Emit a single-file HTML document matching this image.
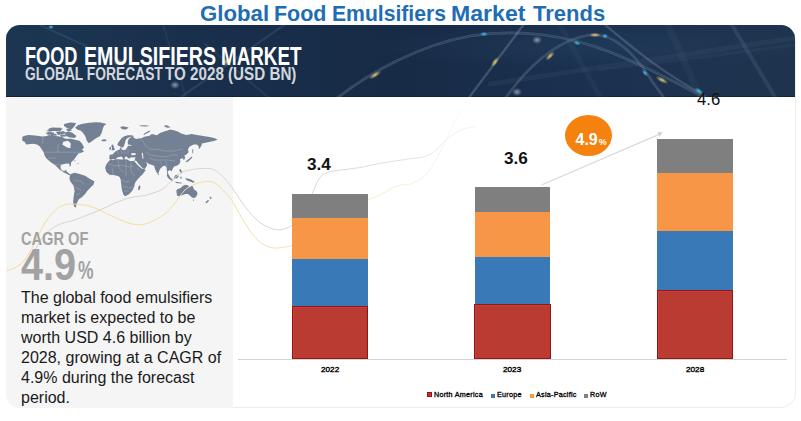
<!DOCTYPE html>
<html><head><meta charset="utf-8">
<style>
*{margin:0;padding:0;box-sizing:border-box}
html,body{width:801px;height:421px;overflow:hidden;background:#fff;font-family:"Liberation Sans",sans-serif}
.abs{position:absolute}
.ttl{position:absolute;top:3px;font-weight:bold;font-size:22px;color:#1f6db3;white-space:nowrap;transform-origin:0 0;line-height:22px}
#frame{position:absolute;left:6px;top:25px;width:790px;height:383px;border:1px solid #ececec;border-radius:15px}
#header{position:absolute;left:6px;top:25px;width:789px;height:72px;box-shadow:inset 0 -1px 0 #132438;border-radius:14px 14px 0 0;overflow:hidden;background:linear-gradient(90deg,#1c3652 0%,#182e4a 30%,#172b46 50%,#1b3150 75%,#1e344e 100%)}
#panel{position:absolute;left:6px;top:97px;width:227px;height:311px;background:#f5f5f5;border-radius:0 0 0 14px}
.h1{position:absolute;left:25px;top:44px;font-weight:bold;font-size:25.3px;color:#fff;white-space:nowrap;transform-origin:0 0;line-height:25px;transform:scaleX(0.756)}
.h2{position:absolute;left:25px;top:65px;font-weight:bold;font-size:18px;color:#d3d7dd;white-space:nowrap;transform-origin:0 0;line-height:18px;transform:scaleX(0.8)}
#cagr{position:absolute;left:21px;top:230px;font-weight:bold;font-size:18.3px;color:#a2a2a2;white-space:nowrap;transform-origin:0 0;line-height:18px;transform:scaleX(0.80)}
#big{position:absolute;left:21px;top:243px;font-weight:bold;font-size:44px;color:#a2a2a2;white-space:nowrap;transform-origin:0 0;line-height:44px;transform:scaleX(0.9)}
#pct{position:absolute;left:78px;top:258px;font-weight:bold;font-size:25px;color:#a2a2a2;white-space:nowrap;transform-origin:0 0;line-height:25px;transform:scaleX(0.7)}
#body{position:absolute;left:21px;top:288px;font-size:16px;color:#1a1a1a;line-height:20px;white-space:nowrap;transform-origin:0 0}
.bar{position:absolute}
.red{background:#b93b31;border:1px solid #8c1818;box-shadow:inset 1px 1px 0 #d23a36}
.lbl{position:absolute;font-weight:bold;font-size:16px;color:#111;white-space:nowrap;line-height:16px;transform-origin:0 0;transform:scaleX(1.07)}
.yr{position:absolute;font-size:7.3px;font-weight:normal;-webkit-text-stroke:0.35px #000;color:#000;white-space:nowrap;line-height:8px;transform-origin:0 0;transform:scaleX(1.12)}
.leg{position:absolute;top:391px;font-size:7.2px;font-weight:normal;color:#000;letter-spacing:0.26px;-webkit-text-stroke:0.3px #000;white-space:nowrap;line-height:8px;transform-origin:0 0}
.sq{position:absolute;top:393.5px;width:4px;height:4px}
</style></head><body>
<div class="ttl" style="left:199.5px;transform:scaleX(1.009)">Global</div>
<div class="ttl" style="left:274px;transform:scaleX(0.976)">Food</div>
<div class="ttl" style="left:331.5px;transform:scaleX(0.961)">Emulsifiers</div>
<div class="ttl" style="left:451px;transform:scaleX(1.051)">Market</div>
<div class="ttl" style="left:533px;transform:scaleX(1.0)">Trends</div>
<div id="frame"></div>
<div id="header">
<svg width="789" height="72" viewBox="6 25 789 72" style="position:absolute;left:0;top:0">
<defs>
<radialGradient id="rg1" cx="0.75" cy="0.3" r="0.3"><stop offset="0" stop-color="#2a4a6a" stop-opacity="0.3"/><stop offset="1" stop-color="#2a4a6a" stop-opacity="0"/></radialGradient>
<radialGradient id="gy" r="0.5"><stop offset="0" stop-color="#f2d36b" stop-opacity="0.95"/><stop offset="1" stop-color="#f2d36b" stop-opacity="0"/></radialGradient>
<radialGradient id="gc" r="0.5"><stop offset="0" stop-color="#3fc3f0" stop-opacity="1"/><stop offset="1" stop-color="#3fc3f0" stop-opacity="0"/></radialGradient>
<radialGradient id="gw" r="0.5"><stop offset="0" stop-color="#ffffff" stop-opacity="0.5"/><stop offset="1" stop-color="#ffffff" stop-opacity="0"/></radialGradient>
</defs>
<rect x="6" y="25" width="789" height="71" fill="url(#rg1)"/>
<g fill="none" stroke="#9fb4cc" stroke-linecap="round">
<path d="M490 84 L795 38" stroke-width="5" stroke-opacity="0.06"/>
<path d="M600 70 L795 45" stroke-width="3" stroke-opacity="0.05"/>
<path d="M668 25 L700 97" stroke-width="7" stroke-opacity="0.05"/>
<path d="M40 25 L130 66" stroke-width="2" stroke-opacity="0.12"/>
<path d="M163 25 L186 97" stroke-width="2" stroke-opacity="0.08"/>
<path d="M284 25 L181 97" stroke-width="2.4" stroke-opacity="0.12"/>
<path d="M205 44 L268 97" stroke-width="2" stroke-opacity="0.10"/>
<path d="M732 25 L775 97" stroke-width="4" stroke-opacity="0.12"/>
<path d="M560 25 L600 97" stroke-width="5" stroke-opacity="0.05"/>
<path d="M336 99 C370 72 420 45 470 36 C520 28 570 36 610 52 C650 68 680 85 702 96" stroke-width="2.6" stroke-opacity="0.28"/>
<path d="M336 99 C370 72 420 45 470 36 C520 28 570 36 610 52 C650 68 680 85 702 96" stroke-width="0.8" stroke="#1a2f4a" stroke-opacity="0.6"/>
<path d="M505 99 C525 70 555 40 590 35 C615 32 635 55 650 78 C655 86 660 92 664 98" stroke-width="2.4" stroke-opacity="0.28"/>
<path d="M505 99 C525 70 555 40 590 35 C615 32 635 55 650 78 C655 86 660 92 664 98" stroke-width="0.7" stroke="#1a2f4a" stroke-opacity="0.6"/>
<path d="M468 99 L524 24" stroke-width="2.4" stroke-opacity="0.28"/>
<path d="M604 24 C630 45 655 68 705 96" stroke-width="2.4" stroke-opacity="0.25"/>
</g>
<ellipse cx="375" cy="75" rx="7" ry="2.5" fill="url(#gy)" transform="rotate(-32 375 75)"/>
<ellipse cx="495" cy="62" rx="6" ry="2.5" fill="url(#gy)" transform="rotate(-55 495 62)"/>
<ellipse cx="550" cy="56" rx="6" ry="2.5" fill="url(#gy)" transform="rotate(-45 550 56)"/>
<ellipse cx="595" cy="35" rx="6" ry="2.2" fill="url(#gy)"/>
<ellipse cx="662" cy="80" rx="7" ry="2.5" fill="url(#gy)" transform="rotate(28 662 80)"/>
<ellipse cx="118" cy="62" rx="5" ry="4" fill="url(#gy)" opacity="0.5"/>
<ellipse cx="226" cy="62" rx="5" ry="4" fill="url(#gy)" opacity="0.8"/>
<ellipse cx="175" cy="85" rx="5" ry="4" fill="url(#gw)"/>
<ellipse cx="484" cy="34" rx="4" ry="2.2" fill="url(#gc)"/>
<ellipse cx="577" cy="43" rx="4" ry="2.2" fill="url(#gc)" transform="rotate(20 577 43)"/>
<ellipse cx="605" cy="36" rx="3" ry="2.5" fill="url(#gc)"/>
<ellipse cx="645" cy="73" rx="4" ry="2.2" fill="url(#gc)" transform="rotate(50 645 73)"/>
<ellipse cx="699" cy="91" rx="5" ry="2.5" fill="url(#gc)" transform="rotate(35 699 91)"/>
<ellipse cx="51" cy="27" rx="3" ry="2" fill="url(#gc)"/>
<ellipse cx="537" cy="40" rx="5" ry="4" fill="url(#gw)"/>
<ellipse cx="517" cy="92" rx="5" ry="4" fill="url(#gw)"/>
</svg>
</div>
<div class="h1" id="h1a" style="left:24.5px;transform:scaleX(0.7175)">FOOD</div>
<div class="h1" id="h1b" style="left:84px;transform:scaleX(0.7766)">EMULSIFIERS</div>
<div class="h1" id="h1c" style="left:221px;transform:scaleX(0.7436)">MARKET</div>
<div class="h2" id="h2a" style="left:25px;transform:scaleX(0.767)">GLOBAL FORECAST</div>
<div class="h2" id="h2b" style="left:165.3px;transform:scaleX(0.844)">TO 2028 (USD BN)</div>
<div id="panel"></div>
<svg class="abs" style="left:0;top:0" width="801" height="421" viewBox="0 0 801 421">
<path d="M182.8 156.6 L184.6 156.4 L185.0 158.4 L184.2 159.8 L183.0 159.6Z M22.3 137.0 L23.7 136.0 L28.5 135.1 L35.1 135.6 L42.7 136.5 L46.5 136.0 L49.4 135.1 L56.0 136.0 L62.3 136.9 L65.1 138.8 L70.8 138.8 L74.0 139.5 L79.4 140.7 L82.0 143.5 L84.1 147.4 L82.0 149.5 L84.0 151.5 L80.5 153.0 L78.5 153.5 L76.5 156.0 L74.3 159.2 L72.5 161.0 L71.0 162.5 L70.8 166.3 L69.8 166.5 L69.3 163.8 L66.5 163.6 L63.0 164.3 L60.8 165.0 L60.5 168.0 L62.0 170.5 L64.0 171.0 L66.3 170.0 L66.5 171.5 L69.0 173.5 L71.5 175.0 L70.5 175.8 L66.0 173.5 L63.6 172.2 L59.3 169.3 L55.0 165.0 L50.8 162.2 L46.5 158.5 L44.8 156.0 L43.7 152.2 L41.8 149.4 L39.9 146.5 L37.0 144.6 L33.2 143.7 L30.4 144.1 L26.1 144.6 L24.7 141.8 L22.3 140.8Z M75.1 127.6 L78.3 125.1 L82.8 123.8 L89.2 122.8 L95.6 122.2 L100.8 122.5 L106.5 124.1 L104.0 125.7 L102.7 128.9 L102.0 132.1 L100.1 136.0 L95.6 138.5 L91.2 141.7 L88.6 143.3 L86.7 140.4 L85.4 136.6 L83.5 133.4 L80.9 130.8 L77.1 129.5Z M101.3 140.0 L104.0 139.3 L106.8 139.8 L105.8 141.2 L102.2 141.3Z M71.5 173.7 L74.6 172.7 L78.8 173.7 L85.1 175.8 L89.2 178.4 L94.5 181.6 L93.4 184.7 L90.3 187.8 L87.2 191.0 L85.1 194.1 L81.9 197.2 L78.8 199.3 L76.7 203.5 L75.7 207.7 L74.1 206.6 L73.1 202.5 L73.6 197.2 L74.6 191.0 L73.6 185.8 L70.4 181.6 L69.4 178.4 L69.9 175.8Z M108.4 161.4 L106.3 164.6 L105.2 167.8 L106.3 172.1 L109.5 174.8 L114.8 175.3 L119.1 176.4 L120.7 179.6 L121.2 183.9 L121.8 189.2 L123.4 194.6 L125.0 196.2 L128.7 194.6 L131.9 191.3 L134.1 187.1 L135.1 182.8 L138.3 178.5 L142.6 174.2 L145.8 170.0 L143.7 168.9 L139.4 166.8 L136.2 163.6 L134.1 160.9 L129.8 160.9 L126.6 159.3 L121.2 159.4 L114.8 159.1 L110.6 159.6Z M139.6 184.9 L140.5 187.1 L139.4 190.3 L138.1 189.7 L138.3 187.1Z M109.2 158.8 L109.7 154.8 L112.5 154.5 L113.5 153.4 L115.4 151.5 L117.5 150.2 L119.5 149.8 L120.3 147.6 L121.3 147.8 L121.5 149.6 L124.0 150.0 L126.0 149.5 L127.0 147.5 L128.5 145.6 L131.0 145.9 L131.3 145.0 L128.2 144.6 L127.6 142.0 L128.5 139.5 L129.5 138.3 L132.5 136.3 L134.4 138.2 L136.3 139.1 L138.2 138.6 L141.2 138.3 L144.4 136.7 L149.6 135.7 L151.7 134.1 L153.8 134.6 L156.9 135.2 L160.0 133.1 L164.2 131.5 L167.4 130.5 L170.5 129.4 L174.7 130.5 L177.8 131.5 L181.2 133.5 L186.5 135.1 L191.7 134.0 L196.9 135.1 L203.2 136.1 L208.0 136.8 L212.0 137.6 L215.5 138.6 L217.5 139.6 L215.5 140.6 L211.5 141.6 L206.5 142.4 L203.0 143.2 L201.1 143.9 L202.1 144.5 L200.0 148.1 L199.0 149.2 L198.5 146.0 L196.9 144.5 L193.8 144.5 L189.6 146.6 L188.0 149.2 L188.5 152.3 L186.5 154.4 L184.4 155.4 L185.4 158.6 L183.3 158.8 L182.4 158.3 L180.0 159.2 L180.4 161.7 L179.1 164.2 L176.6 165.8 L174.1 166.6 L172.5 169.1 L171.6 171.6 L170.0 170.0 L167.5 171.6 L168.5 174.5 L170.5 177.5 L169.5 177.8 L167.2 175.0 L166.6 167.5 L164.6 165.4 L162.5 166.6 L160.0 169.1 L158.7 172.5 L157.9 174.1 L156.7 172.5 L155.0 169.1 L154.2 165.8 L150.0 164.2 L147.0 163.5 L146.9 165.7 L144.8 168.9 L141.6 167.8 L138.3 164.6 L137.0 162.0 L136.2 161.0 L134.1 160.9 L134.8 159.5 L135.6 157.5 L131.0 157.2 L129.5 158.5 L128.0 158.3 L126.8 156.5 L125.0 157.0 L124.4 159.6 L123.3 159.2 L122.5 157.5 L121.0 156.5 L119.2 157.0 L117.3 157.5 L115.6 159.2 L112.6 160.2Z M117.3 144.8 L118.3 142.4 L120.2 140.0 L122.0 137.7 L124.4 136.3 L127.8 135.3 L131.6 135.3 L134.4 136.3 L130.0 137.0 L126.8 138.4 L125.4 141.0 L124.6 143.9 L123.6 146.7 L122.0 147.7 L120.2 146.4 L118.3 145.8Z M113.0 144.3 L114.0 147.2 L114.9 150.0 L111.6 150.5 L112.1 147.7 L111.1 145.8Z M109.2 147.5 L111.0 147.0 L111.1 149.4 L109.5 149.8Z M185.4 161.7 L187.0 160.5 L189.5 158.5 L191.7 156.5 L192.2 157.5 L190.0 160.0 L187.0 162.2Z M192.2 149.2 L193.2 149.5 L193.2 153.4 L192.4 153.0Z M179.1 169.5 L180.5 169.1 L182.4 172.5 L181.5 173.5 L180.0 172.0Z M166.6 175.0 L168.0 175.5 L172.0 179.0 L173.3 180.8 L172.0 181.0 L168.0 178.0Z M175.0 181.8 L178.0 181.9 L182.4 183.0 L181.0 183.5 L176.0 183.0Z M173.8 177.5 L175.5 175.0 L178.3 174.8 L178.5 177.0 L176.5 178.5 L174.5 178.5Z M180.0 177.0 L181.5 176.5 L181.5 179.0 L180.5 178.5Z M185.0 178.3 L188.0 178.5 L191.0 179.5 L195.0 182.0 L193.0 182.7 L190.0 181.5 L187.0 180.5Z M176.3 190.6 L177.3 189.3 L180.6 188.0 L182.6 186.0 L185.3 184.7 L188.0 185.3 L189.3 187.3 L191.3 186.0 L192.6 186.0 L193.9 189.3 L196.6 191.3 L197.6 193.3 L196.6 196.0 L194.6 197.9 L191.9 197.6 L189.9 195.6 L188.0 194.0 L185.3 194.0 L182.0 195.3 L178.6 196.3 L177.0 195.6 L176.7 193.3Z M192.6 199.7 L194.2 199.8 L193.6 201.0Z M209.6 196.3 L211.9 198.0 L210.6 199.3 L209.8 198.0Z M207.9 200.0 L209.2 200.6 L206.6 203.3 L205.2 202.6Z M120.2 127.0 L123.0 126.3 L128.7 127.5 L126.0 129.6 L122.0 129.3Z M139.1 125.4 L144.0 125.2 L149.6 125.7 L146.0 126.4 L141.0 126.2Z M143.3 134.6 L145.0 133.0 L148.0 131.3 L150.6 130.5 L149.5 132.0 L146.0 133.8 L144.0 135.0Z M164.2 125.6 L167.0 125.2 L170.5 127.2 L168.0 127.8 L165.0 127.0Z M158.3 173.6 L159.2 174.0 L158.8 175.2 L158.1 174.8Z M45.5 133.0 L49.0 132.0 L54.0 132.5 L54.0 134.6 L48.0 134.8Z M48.0 129.0 L52.0 127.5 L58.0 127.8 L62.0 129.0 L60.0 131.5 L55.0 131.0 L50.0 131.0Z M64.2 124.0 L70.0 122.5 L76.0 123.1 L75.0 125.5 L71.8 129.3 L67.0 128.0 L64.0 126.0Z M64.5 133.0 L68.0 131.5 L72.0 132.5 L76.5 136.0 L74.5 138.0 L70.0 137.5 L66.0 136.0Z M56.0 132.0 L62.0 131.5 L64.0 134.0 L58.0 135.0Z M46.0 131.0 L50.0 129.5 L53.0 130.0 L51.0 131.8Z M55.0 128.5 L60.0 127.5 L63.0 129.0 L59.0 130.5Z M58.0 132.5 L63.0 131.0 L66.0 132.5 L62.0 134.5Z M51.0 134.5 L56.0 133.8 L57.0 135.5 L52.0 136.0Z M60.0 135.0 L65.0 134.5 L66.0 136.5 L61.0 136.8Z M66.0 129.0 L70.0 128.5 L72.0 130.5 L68.0 131.5Z M73.5 160.5 L76.0 160.8 L75.0 161.6Z M77.0 163.0 L79.0 163.3 L78.0 164.0Z" fill="#748194"/>
<path d="M63.2 141.7 L68.0 140.7 L70.8 143.6 L70.3 148.3 L67.0 147.4 L62.3 144.5Z M131.0 153.6 L133.0 153.0 L135.5 153.2 L136.2 154.2 L134.0 155.2 L131.5 155.1Z M141.8 153.0 L142.8 152.8 L143.2 155.5 L143.5 158.5 L142.6 158.8 L142.2 156.0 L141.8 154.5Z M134.6 160.4 L135.6 160.6 L142.8 168.4 L142.0 169.0Z M146.0 162.2 L148.6 163.4 L148.2 164.2 L145.6 162.8Z" fill="#f5f5f5"/>
<path d="M44.5 152.2 L80.5 152.2 M42.7 136.5 L42.7 144.0 M55.0 165.0 L62.0 164.5 M108.0 164.0 L116.0 166.0 L122.0 165.0 L128.0 167.0 L134.0 166.0 M112.0 167.0 L113.0 175.0 M118.0 160.0 L119.0 168.0 L124.0 172.0 M126.0 161.0 L126.0 176.0 M131.0 161.0 L131.0 172.0 L135.0 176.0 M121.0 180.0 L126.0 182.0 L130.0 181.0 M123.0 186.0 L129.0 188.0 L133.0 187.0 M124.0 191.0 L129.0 191.0 M137.0 168.0 L140.0 170.0 M136.0 164.0 L141.0 166.0 M141.0 138.5 L146.0 146.0 L150.0 149.0 M150.0 149.0 L158.0 149.5 L166.0 151.0 L174.0 151.0 L182.0 149.0 M146.0 152.0 L150.0 155.0 L158.0 156.0 L166.0 157.0 L172.0 155.0 L178.0 155.0 M149.0 158.0 L154.0 160.0 L160.0 160.0 L168.0 160.0 L175.0 161.0 M160.0 161.0 L162.0 165.0 M166.0 161.0 L167.0 167.0 M117.0 151.0 L119.0 154.0 M121.0 150.0 L122.0 154.0 M124.0 149.5 L125.0 154.0 M128.0 149.0 L128.0 154.0 M74.0 180.0 L80.0 181.0 L84.0 184.0 M75.0 187.0 L81.0 190.0 M76.0 195.0 L80.0 193.0 M48.0 158.0 L56.0 158.0 M58.0 144.0 L58.0 152.0" fill="none" stroke="#dfe3e8" stroke-width="0.5" opacity="0.45"/>
<defs><linearGradient id="fadeG" gradientUnits="userSpaceOnUse" x1="0" y1="0" x2="480" y2="0"><stop offset="0" stop-color="#d2d2d2"/><stop offset="0.6" stop-color="#d6d6d6"/><stop offset="0.78" stop-color="#dcdcdc"/><stop offset="0.9" stop-color="#e8e8e8"/><stop offset="1" stop-color="#f4f4f4"/></linearGradient><linearGradient id="fadeY" gradientUnits="userSpaceOnUse" x1="0" y1="0" x2="465" y2="0"><stop offset="0" stop-color="#f0dc9c"/><stop offset="0.55" stop-color="#f2dfa8"/><stop offset="0.75" stop-color="#f5e8c4"/><stop offset="0.9" stop-color="#f9f0da"/><stop offset="1" stop-color="#fdf9ef"/></linearGradient></defs><path d="M30.0 258.0 C30.9 256.6 33.4 252.6 35.3 249.5 C37.2 246.4 38.9 242.6 41.3 239.4 C43.6 236.2 46.7 232.7 49.4 230.3 C52.1 228.0 54.8 226.7 57.5 225.3 C60.2 224.0 62.6 223.1 65.5 222.2 C68.4 221.3 69.2 221.8 75.0 219.8 C80.8 217.8 93.3 212.8 100.0 210.0 C106.7 207.2 110.0 205.1 115.0 203.0 C120.0 200.9 125.0 199.0 130.0 197.7 C135.0 196.4 140.0 196.6 145.0 195.4 C150.0 194.2 156.3 192.2 160.0 190.5 C163.7 188.8 164.9 187.2 167.4 185.0 C169.9 182.8 172.5 179.6 175.0 177.5 C177.5 175.4 179.9 173.4 182.4 172.2 C184.9 170.9 186.8 170.6 190.0 170.0 C193.2 169.4 198.2 168.6 201.9 168.5 C205.6 168.4 209.2 168.1 212.4 169.2 C215.6 170.2 217.8 171.9 220.9 174.8 C224.1 177.7 227.8 182.0 231.3 186.6 C234.8 191.2 238.3 197.4 241.8 202.2 C245.3 207.0 248.7 211.6 252.2 215.3 C255.7 219.0 258.8 222.0 262.7 224.4 C266.6 226.8 271.8 228.9 275.7 229.6 C279.6 230.2 283.0 229.6 286.2 228.3 C289.4 227.0 291.9 225.9 295.0 222.0 C298.1 218.1 302.2 209.7 305.0 205.0 C307.8 200.3 309.6 198.4 312.0 194.0 C314.4 189.6 316.6 182.1 319.2 178.5 C321.8 174.9 324.1 174.0 327.5 172.6 C330.9 171.2 334.2 171.0 339.4 170.2 C344.5 169.4 351.6 168.9 358.4 167.8 C365.2 166.7 371.6 164.9 380.0 163.4 C388.4 161.9 400.9 160.2 408.5 159.0 C416.1 157.8 420.9 158.0 425.6 156.3 C430.4 154.6 433.2 152.1 437.0 149.0 C440.8 145.9 444.2 141.1 448.5 137.8 C452.8 134.5 457.9 131.2 462.7 129.3 C467.4 127.4 474.6 126.9 477.0 126.4" fill="none" stroke="url(#fadeG)" stroke-width="1"/>
<path d="M7.0 270.6 C8.3 270.1 12.4 269.1 15.1 267.6 C17.8 266.1 20.5 264.6 23.2 261.6 C25.9 258.6 28.5 254.2 31.2 249.5 C33.9 244.8 36.6 238.4 39.3 233.3 C42.0 228.2 44.7 223.1 47.4 219.2 C50.1 215.3 52.7 212.4 55.4 210.1 C58.1 207.8 60.8 206.1 63.5 205.1 C66.2 204.1 68.2 204.1 71.6 204.1 C75.0 204.1 79.9 204.3 84.0 205.0 C88.1 205.7 90.7 206.3 96.0 208.5 C101.3 210.7 110.3 215.5 116.0 218.0 C121.7 220.5 125.5 222.4 130.0 223.5 C134.5 224.6 138.8 225.1 143.0 224.5 C147.2 223.9 151.2 221.9 155.0 220.0 C158.8 218.1 162.7 215.8 166.0 213.0 C169.3 210.2 172.0 206.7 175.0 203.0 C178.0 199.3 181.0 194.0 184.0 191.0 C187.0 188.0 189.5 186.6 193.0 185.0 C196.5 183.4 201.4 181.9 204.9 181.5 C208.4 181.1 211.2 181.4 213.9 182.5 C216.6 183.6 218.0 185.1 220.9 187.9 C223.8 190.8 227.8 194.6 231.3 199.6 C234.8 204.6 238.3 212.2 241.8 217.9 C245.3 223.6 248.7 229.2 252.2 233.6 C255.7 237.9 259.2 241.6 262.7 244.0 C266.2 246.4 269.6 247.4 273.1 247.9 C276.6 248.4 280.0 247.8 283.6 247.1 C287.2 246.4 287.3 247.7 295.0 244.0 C302.7 240.3 320.0 231.0 330.0 225.0 C340.0 219.0 348.6 212.2 355.0 208.0 C361.4 203.8 364.2 202.1 368.4 199.9 C372.6 197.7 375.2 197.3 380.0 195.0 C384.8 192.7 391.8 187.8 397.0 185.9 C402.2 184.0 406.6 185.4 411.4 183.6 C416.2 181.8 421.3 179.3 425.6 175.0 C429.9 170.7 433.2 164.6 437.0 157.9 C440.8 151.2 445.2 141.9 448.5 135.0 C451.8 128.1 454.6 120.9 457.0 116.4 C459.4 111.9 461.8 109.3 462.7 107.9" fill="none" stroke="url(#fadeY)" stroke-width="1"/>
</svg>
<div id="cagr">CAGR OF</div>
<div id="big">4.9</div><div id="pct">%</div>
<div id="body">The global food emulsifiers<br>market is expected to be<br>worth USD 4.6 billion by<br>2028, growing at a CAGR of<br>4.9% during the forecast<br>period.</div>

<!-- axis -->
<div class="abs" style="left:238px;top:359px;width:549px;height:1px;background:#d4d4d4"></div>

<!-- 2022 bar -->
<div class="bar" style="left:292px;top:194px;width:76px;height:165.0px;background:#7f7f7f"></div>
<div class="bar" style="left:292px;top:217.8px;width:76px;height:141.2px;background:#f79646"></div>
<div class="bar" style="left:292px;top:258.8px;width:76px;height:100.2px;background:#3a79b8"></div>
<div class="bar red" style="left:292px;top:305.9px;width:76px;height:53.1px"></div>
<!-- 2023 bar -->
<div class="bar" style="left:475px;top:187.1px;width:75px;height:171.9px;background:#7f7f7f"></div>
<div class="bar" style="left:475px;top:211.8px;width:75px;height:147.2px;background:#f79646"></div>
<div class="bar" style="left:475px;top:256.5px;width:75px;height:102.5px;background:#3a79b8"></div>
<div class="bar red" style="left:474px;top:303.9px;width:77px;height:55.1px"></div>
<!-- 2028 bar -->
<div class="bar" style="left:657px;top:139px;width:76px;height:220.0px;background:#7f7f7f"></div>
<div class="bar" style="left:657px;top:172.5px;width:76px;height:186.5px;background:#f79646"></div>
<div class="bar" style="left:657px;top:230.6px;width:76px;height:128.4px;background:#3a79b8"></div>
<div class="bar red" style="left:657px;top:290px;width:76px;height:69.0px"></div>

<div class="lbl" id="l1" style="left:306.5px;top:156.5px">3.4</div>
<div class="lbl" id="l2" style="left:503.5px;top:150.5px">3.6</div>
<div class="lbl" id="l3" style="left:696.5px;top:92px;font-weight:normal;transform:scaleX(1.04)">4.6</div>

<div class="yr" id="y1" style="left:321px;top:366px">2022</div>
<div class="yr" id="y2" style="left:503px;top:366px">2023</div>
<div class="yr" id="y3" style="left:686px;top:366px">2028</div>

<div class="sq" style="left:427px;top:392px;width:5px;height:5px;background:#c8302c;border:1px solid #8e1515"></div><div class="leg" id="lg1" style="left:434px">North America</div>
<div class="sq" style="left:491px;background:#3a78b7"></div><div class="leg" id="lg2" style="left:497px">Europe</div>
<div class="sq" style="left:530px;background:#f79646"></div><div class="leg" id="lg3" style="left:536px">Asia-Pacific</div>
<div class="sq" style="left:584px;background:#7f7f7f"></div><div class="leg" id="lg4" style="left:590px">RoW</div>

<svg class="abs" style="left:0;top:0" width="801" height="421" viewBox="0 0 801 421">
<path d="M542 184.8 L658.5 134.6" stroke="#d9d9d9" stroke-width="1.2" fill="none"/>
<path d="M657.3 132.2 L662.6 132.2 L659.5 136.8Z" fill="#cfcfcf"/>
</svg>
<!-- CAGR bubble -->
<div class="abs" style="left:565px;top:115px;width:47px;height:41px;border-radius:50%;background:#f5820f"></div>
<div class="abs" id="bub" style="left:575.5px;top:131.5px;font-weight:bold;font-size:16px;color:#fff;white-space:nowrap;line-height:16px">4.9<span style="font-size:9px;margin-left:1px">%</span></div>
</body></html>
